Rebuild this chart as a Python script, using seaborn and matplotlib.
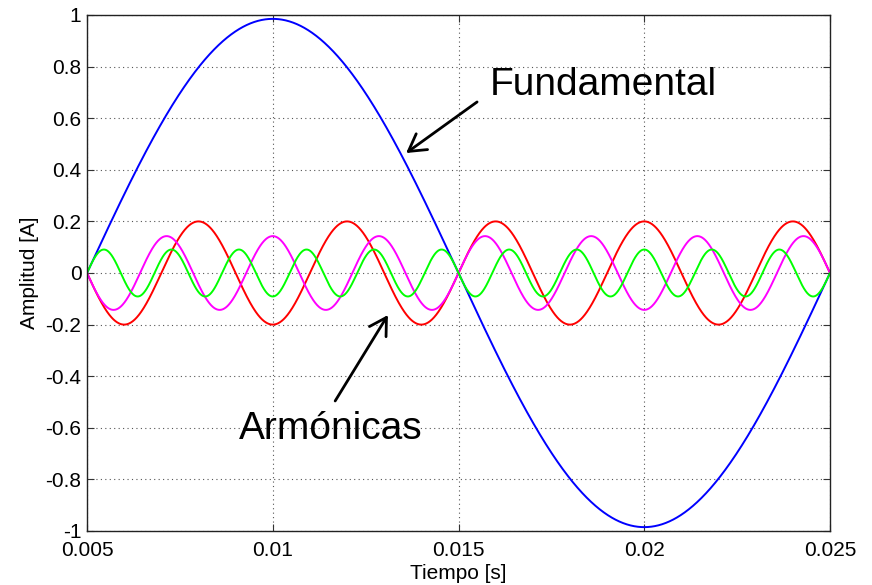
import numpy as np
import pandas as pd
import seaborn as sns
import matplotlib.pyplot as plt

# fundamental 50 Hz plus 5th, 7th and 11th harmonics
wave_names = ["Fundamental", "5", "7", "11"]
harmonic_order = [1, 5, 7, 11]
amplitude = [0.985, 0.2, 0.143, 0.091]
start_sign = [1, -1, -1, 1]  # direction each curve leaves zero at t = 0.005
wave_colors = ["#0000ff", "#ff0000", "#ff00ff", "#00ff00"]
f0 = 50.0
t_start, t_end = 0.005, 0.025

x_ticks = [0.005, 0.01, 0.015, 0.02, 0.025]
x_tick_labels = ["0.005", "0.01", "0.015", "0.02", "0.025"]
y_ticks = [-1, -0.8, -0.6, -0.4, -0.2, 0, 0.2, 0.4, 0.6, 0.8, 1]
y_tick_labels = ["-1", "-0.8", "-0.6", "-0.4", "-0.2", "0", "0.2", "0.4", "0.6", "0.8", "1"]

t = np.linspace(t_start, t_end, 2001)
frames = []
for name, n, a, s in zip(wave_names, harmonic_order, amplitude, start_sign):
    frames.append(pd.DataFrame({
        "t": t,
        "amp": s * a * np.sin(2 * np.pi * n * f0 * (t - t_start)),
        "wave": name,
    }))
df = pd.concat(frames, ignore_index=True)

sns.set_style("white")
plt.rcParams["font.family"] = ["Liberation Sans", "DejaVu Sans"]
plt.rcParams["axes.unicode_minus"] = False
plt.rcParams["text.color"] = "black"
plt.rcParams["axes.labelcolor"] = "black"

fig = plt.figure(figsize=(8.72, 5.85), dpi=100)
ax = fig.add_axes([87 / 872, 1 - 531 / 585, 743 / 872, 516 / 585])

sns.lineplot(data=df, x="t", y="amp", hue="wave", hue_order=wave_names,
             palette=wave_colors, estimator=None, legend=False, lw=1.4, ax=ax)

ax.set_xlim(t_start, t_end)
ax.set_ylim(-1, 1)
ax.set_xticks(x_ticks)
ax.set_xticklabels(x_tick_labels)
ax.set_yticks(y_ticks)
ax.set_yticklabels(y_tick_labels)
ax.tick_params(direction="in", length=5, width=0.8, color="#333333",
               labelsize=15, labelcolor="black", pad=4,
               top=True, right=True, bottom=True, left=True)
ax.tick_params(axis="x", pad=7)
ax.grid(True, linestyle=(0, (1, 3)), color="#555555", lw=0.8)
for sp in ax.spines.values():
    sp.set_color("#222222")
    sp.set_linewidth(1.0)

ax.set_xlabel("Tiempo [s]", fontsize=15, labelpad=3, color="black")
ax.set_ylabel("Amplitud [A]", fontsize=15, labelpad=5, color="black")

arrow = dict(arrowstyle="->,head_length=0.6,head_width=0.35", lw=2,
             color="black", mutation_scale=20, shrinkA=0, shrinkB=0)
ax.annotate("", xy=(0.01359, 0.465), xytext=(0.0155, 0.663), arrowprops=arrow)
ax.annotate("", xy=(0.0131, -0.163), xytext=(0.01168, -0.496), arrowprops=arrow)
ax.text(0.01585, 0.690, "Fundamental", fontsize=28, color="black",
        ha="left", va="baseline")
ax.text(0.00909, -0.643, "Armónicas", fontsize=28, color="black",
        ha="left", va="baseline")

fig.savefig("out.png", dpi=100, facecolor="white")
